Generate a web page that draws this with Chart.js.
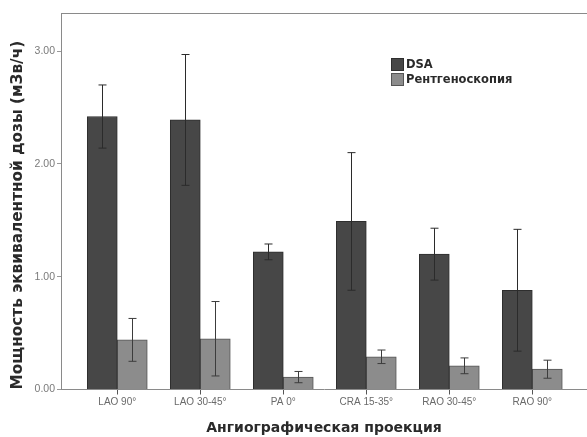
<!DOCTYPE html>
<html>
<head>
<meta charset="utf-8">
<script src="https://cdn.jsdelivr.net/npm/chart.js@4.4.1/dist/chart.umd.min.js"></script>
<style>
  html,body{margin:0;padding:0;background:#fff;}
  #wrap{width:587px;height:437px;position:relative;}
</style>
</head>
<body>
<div id="wrap"><canvas id="c" width="587" height="437"></canvas></div>
<script>
const categories = ["LAO 90°", "LAO 30-45°", "PA 0°", "CRA 15-35°", "RAO 30-45°", "RAO 90°"];
const seriesNames = ["DSA", "Рентгеноскопия"];
const dsaValues = [2.42, 2.39, 1.22, 1.49, 1.20, 0.88];
const dsaErrors = [0.28, 0.58, 0.07, 0.61, 0.23, 0.54];
const fluoroValues = [0.44, 0.45, 0.11, 0.29, 0.21, 0.18];
const fluoroErrors = [0.19, 0.33, 0.05, 0.06, 0.07, 0.08];
const yTicks = [0, 1, 2, 3];

const FONT = "'Liberation Sans', Arial, sans-serif";
const BFONT = "'DejaVu Sans', sans-serif";

const errorBarPlugin = {
  id: 'errorBars',
  afterDatasetsDraw(chart) {
    const ctx = chart.ctx;
    const yScale = chart.scales.y;
    chart.data.datasets.forEach((ds, di) => {
      const meta = chart.getDatasetMeta(di);
      meta.data.forEach((bar, i) => {
        const v = ds.data[i].y, e = ds.errors[i];
        const yTop = yScale.getPixelForValue(v + e);
        const yBot = yScale.getPixelForValue(Math.max(0, v - e));
        const x = Math.round(bar.x) + 0.5;
        ctx.save();
        ctx.strokeStyle = ds.errorColor;
        ctx.lineWidth = 1;
        ctx.beginPath();
        ctx.moveTo(x, yTop); ctx.lineTo(x, yBot);
        ctx.moveTo(x - 4, yTop); ctx.lineTo(x + 4, yTop);
        ctx.moveTo(x - 4, yBot); ctx.lineTo(x + 4, yBot);
        ctx.stroke();
        ctx.restore();
      });
    });
  }
};

const framePlugin = {
  id: 'frame',
  afterDraw(chart) {
    const ctx = chart.ctx, a = chart.chartArea;
    ctx.save();
    ctx.strokeStyle = '#8a8a8a';
    ctx.lineWidth = 1;
    ctx.beginPath();
    ctx.moveTo(a.left, a.top + 0.5);
    ctx.lineTo(a.right, a.top + 0.5);
    ctx.stroke();
    // legend
    const lx = 391, ly = 58, sw = 13, sh = 13, gap = 2;
    chart.data.datasets.forEach((ds, i) => {
      const y = ly + i * (sh + gap);
      ctx.fillStyle = ds.backgroundColor;
      ctx.fillRect(lx, y, sw, sh);
      ctx.strokeStyle = ds.borderColor;
      ctx.strokeRect(lx + 0.5, y + 0.5, sw - 1, sh - 1);
      ctx.fillStyle = '#2a2a2a';
      ctx.font = "bold 11.5px " + BFONT;
      ctx.textBaseline = 'middle';
      ctx.textAlign = 'left';
      ctx.fillText(ds.label, lx + sw + 2, y + sh / 2 + 1);
    });
    ctx.restore();
  }
};

new Chart(document.getElementById('c'), {
  type: 'bar',
  data: {
    datasets: [
      {
        label: seriesNames[0],
        data: dsaValues.map((v, i) => ({ x: i, y: v })),
        errors: dsaErrors,
        errorColor: '#2b2b2b',
        backgroundColor: '#474747',
        borderColor: '#2e2e2e',
        borderWidth: 1,
        barThickness: 30
      },
      {
        label: seriesNames[1],
        data: fluoroValues.map((v, i) => ({ x: i, y: v })),
        errors: fluoroErrors,
        errorColor: '#3c3c3c',
        backgroundColor: '#8c8c8c',
        borderColor: '#555555',
        borderWidth: 1,
        barThickness: 30
      }
    ]
  },
  options: {
    responsive: false,
    animation: false,
    devicePixelRatio: 1,
    layout: { padding: { top: 13, right: 0, left: 0, bottom: 0 } },
    plugins: { legend: { display: false }, tooltip: { enabled: false } },
    scales: {
      x: {
        type: 'linear',
        offset: false,
        min: -0.678,
        max: 5.659,
        afterBuildTicks(s) { s.ticks = categories.map((c, i) => ({ value: i })); },
        afterFit(s) { s.height = 47.5; },
        ticks: {
          callback: (v) => categories[v],
          font: { family: FONT, size: 10 },
          color: '#6a6a6a',
          padding: 2,
          maxRotation: 0,
          autoSkip: false
        },
        grid: { display: true, offset: false, drawOnChartArea: false, drawTicks: true, tickLength: 5, color: '#555' },
        border: { display: true, color: '#8a8a8a' },
        title: {
          display: true,
          text: 'Ангиографическая проекция',
          font: { family: BFONT, size: 14, weight: 'bold' },
          color: '#2a2a2a',
          padding: { top: 3, bottom: 0 }
        }
      },
      y: {
        type: 'linear',
        min: 0,
        max: 3.338,
        afterBuildTicks(s) { s.ticks = yTicks.map(v => ({ value: v })); },
        afterFit(s) { s.width = 61; },
        ticks: {
          callback: (v) => v.toFixed(2),
          font: { family: FONT, size: 10.5 },
          color: '#7a7a7a',
          padding: 2
        },
        grid: { display: true, drawOnChartArea: false, drawTicks: true, tickLength: 4, color: '#999' },
        border: { display: true, color: '#8a8a8a' },
        title: {
          display: true,
          text: 'Мощность эквивалентной дозы (мЗв/ч)',
          align: 'start',
          font: { family: BFONT, size: 15.3, weight: 'bold' },
          color: '#2a2a2a',
          padding: { top: 9, bottom: 2 }
        }
      }
    }
  },
  plugins: [errorBarPlugin, framePlugin]
});
</script>
</body>
</html>
